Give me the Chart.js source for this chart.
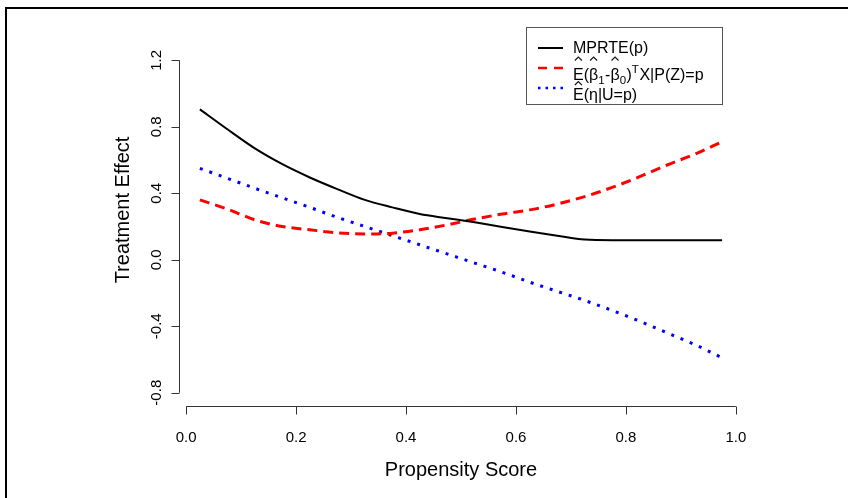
<!DOCTYPE html>
<html><head><meta charset="utf-8">
<script src="https://cdn.jsdelivr.net/npm/chart.js@4/dist/chart.umd.min.js"></script>
<style>html,body{margin:0;padding:0;background:#fff}canvas{display:block}</style>
</head><body>
<canvas id="c" width="848" height="498"></canvas>
<script>
const propensity = [0.025,0.075,0.125,0.175,0.225,0.275,0.325,0.375,0.425,0.475,0.525,0.575,0.625,0.675,0.725,0.775,0.825,0.875,0.925,0.975];
const mprte      = [0.905,0.785,0.67,0.575,0.495,0.425,0.36,0.315,0.275,0.25,0.225,0.197,0.17,0.145,0.122,0.118,0.118,0.118,0.118,0.118];
const betaDiff   = [0.36,0.305,0.24,0.20,0.18,0.162,0.155,0.16,0.18,0.21,0.245,0.275,0.30,0.335,0.38,0.435,0.50,0.57,0.635,0.71];
const etaHat     = [0.55,0.49,0.43,0.372,0.315,0.255,0.20,0.145,0.09,0.035,-0.02,-0.075,-0.135,-0.19,-0.245,-0.305,-0.37,-0.44,-0.51,-0.59];
const xTicks = [0,0.2,0.4,0.6,0.8,1.0];
const xTickLabels = ["0.0","0.2","0.4","0.6","0.8","1.0"];
const yTicks = [-0.8,-0.4,0,0.4,0.8,1.2];
const yTickLabels = ["-0.8","-0.4","0.0","0.4","0.8","1.2"];
const xTitle = "Propensity Score";
const yTitle = "Treatment Effect";
const seriesNames = ["MPRTE(p)","E(β1-β0)TX|P(Z)=p","E(η|U=p)"];

const FONT = '"Liberation Sans", Arial, sans-serif';
const pts = ys => propensity.map((x,i)=>({x:x,y:ys[i]}));

function hat(ctx, cx, tip){
  ctx.save();
  ctx.strokeStyle='#111'; ctx.lineWidth=1.1;
  ctx.beginPath();
  ctx.moveTo(cx-3.5, tip+3.5); ctx.lineTo(cx, tip); ctx.lineTo(cx+3.5, tip+3.5);
  ctx.stroke();
  ctx.restore();
}

function drawPieces(ctx, pieces, x, base, hatTip){
  for(const p of pieces){
    let size = 16, dy = 0;
    if(p.sub){ size = 11.5; dy = 4; }
    if(p.sup){ size = 11.5; dy = -7.5; }
    ctx.font = size+'px '+FONT;
    ctx.fillStyle='#000';
    ctx.textAlign='left'; ctx.textBaseline='alphabetic';
    ctx.fillText(p.t, x, base+dy);
    const w = ctx.measureText(p.t).width;
    if(p.hat) hat(ctx, x + w/2, hatTip);
    x += w + (p.sub||p.sup ? 0.5 : 0);
  }
}

const rAxes = {
  id:'rAxes',
  afterDraw(chart){
    const ctx = chart.ctx, xs = chart.scales.x, ys = chart.scales.y, a = chart.chartArea;
    ctx.save();
    // outer frame (top and left)
    ctx.fillStyle='#000';
    ctx.fillRect(5,7,843,2);
    ctx.fillRect(5,7,2,491);
    ctx.strokeStyle='#333'; ctx.lineWidth=1;
    // x axis
    const xb = Math.round(a.bottom)+0.5;
    ctx.beginPath();
    ctx.moveTo(xs.getPixelForValue(xTicks[0]), xb);
    ctx.lineTo(xs.getPixelForValue(xTicks[xTicks.length-1]), xb);
    xTicks.forEach(v=>{const px=Math.round(xs.getPixelForValue(v))+0.5; ctx.moveTo(px,xb); ctx.lineTo(px,xb+8);});
    ctx.stroke();
    // y axis
    const yl = Math.round(a.left)+0.5;
    ctx.beginPath();
    ctx.moveTo(yl, ys.getPixelForValue(yTicks[0]));
    ctx.lineTo(yl, ys.getPixelForValue(yTicks[yTicks.length-1]));
    yTicks.forEach(v=>{const py=Math.round(ys.getPixelForValue(v))+0.5; ctx.moveTo(yl,py); ctx.lineTo(yl-8,py);});
    ctx.stroke();
    ctx.fillStyle='#000';
    ctx.font='15px '+FONT;
    ctx.textAlign='center'; ctx.textBaseline='alphabetic';
    xTicks.forEach((v,i)=>ctx.fillText(xTickLabels[i], xs.getPixelForValue(v), 442));
    yTicks.forEach((v,i)=>{
      ctx.save(); ctx.translate(161, ys.getPixelForValue(v)); ctx.rotate(-Math.PI/2);
      ctx.fillText(yTickLabels[i],0,0); ctx.restore();
    });
    ctx.font='20px '+FONT;
    ctx.fillText(xTitle, (xs.getPixelForValue(0)+xs.getPixelForValue(1))/2, 476);
    ctx.save(); ctx.translate(129, 210); ctx.rotate(-Math.PI/2);
    ctx.fillText(yTitle,0,0); ctx.restore();

    // legend
    ctx.strokeStyle='#555'; ctx.lineWidth=1;
    ctx.strokeRect(526.5,27.5,196,77);
    const lx0=538, lx1=563;
    ctx.lineWidth=2; ctx.strokeStyle='#000'; ctx.setLineDash([]);
    ctx.beginPath(); ctx.moveTo(lx0,48); ctx.lineTo(lx1,48); ctx.stroke();
    ctx.strokeStyle='#ff0000'; ctx.lineWidth=2.5; ctx.setLineDash([9,7]);
    ctx.beginPath(); ctx.moveTo(lx0,68); ctx.lineTo(lx1,68); ctx.stroke();
    ctx.strokeStyle='#0000ff'; ctx.lineWidth=2.5; ctx.setLineDash([2.5,5]);
    ctx.beginPath(); ctx.moveTo(lx0,88); ctx.lineTo(lx1,88); ctx.stroke();
    ctx.setLineDash([]);
    ctx.font='16px '+FONT; ctx.textAlign='left'; ctx.fillStyle='#000';
    ctx.fillText(seriesNames[0], 573, 53);
    drawPieces(ctx, [{t:'E',hat:true},{t:'('},{t:'β',hat:true},{t:'1',sub:true},{t:'-'},{t:'β',hat:true},{t:'0',sub:true},{t:')'},{t:'T',sup:true},{t:'X|P(Z)=p'}], 573, 80, 57);
    drawPieces(ctx, [{t:'E',hat:true},{t:'(η|U=p)'}], 573, 100, 81.5);
    ctx.restore();
  }
};

new Chart(document.getElementById('c'), {
  type:'line',
  data:{ datasets:[
    {label:seriesNames[0], data:pts(mprte), borderColor:'#000', borderWidth:2, pointRadius:0, cubicInterpolationMode:'monotone'},
    {label:seriesNames[1], data:pts(betaDiff), borderColor:'#ff0000', borderWidth:3, borderDash:[10,6], pointRadius:0, cubicInterpolationMode:'monotone'},
    {label:seriesNames[2], data:pts(etaHat), borderColor:'#0000ff', borderWidth:3, borderDash:[3,7], pointRadius:0, cubicInterpolationMode:'monotone'}
  ]},
  options:{
    responsive:false, animation:false, devicePixelRatio:1,
    layout:{padding:{left:179,right:105,top:47,bottom:92}},
    plugins:{legend:{display:false}, tooltip:{enabled:false}},
    scales:{
      x:{type:'linear', min:-0.013, max:1.013, display:false},
      y:{type:'linear', min:-0.88, max:1.28, display:false}
    }
  },
  plugins:[rAxes]
});
</script>
</body></html>
